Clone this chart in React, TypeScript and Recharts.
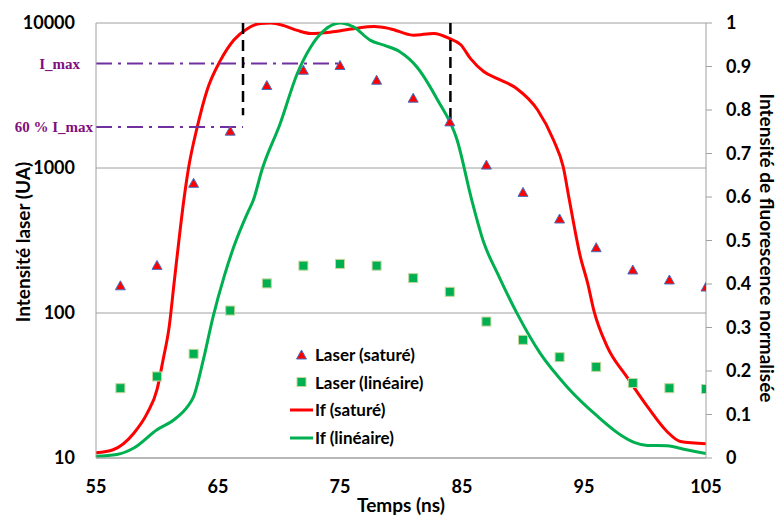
import {
  ComposedChart, XAxis, YAxis, CartesianGrid, Scatter, Line,
  ReferenceLine, Legend, Label
} from 'recharts';

// laser pulse sampled every 3 ns (left axis, log)
const times = [57, 60, 63, 66, 69, 72, 75, 78, 81, 84, 87, 90, 93, 96, 99, 102, 105];
const laserSat = [154, 213, 784, 1795, 3705, 4723, 5090, 4030, 3030, 2080, 1047, 679, 445, 282, 198, 169, 151];
const laserLin = [30.3, 36.5, 52.3, 104, 160, 212, 218, 212, 174, 140, 87.3, 65.3, 49.6, 42.5, 32.9, 30.3, 29.9];

// normalised fluorescence (right axis)
const ifSatT = [55, 56.4, 58.1, 59.2, 60.0, 60.5, 61.0, 61.4, 61.8, 62.2, 62.6, 63.3, 64.1, 65.2, 66.3, 67.4, 68.5, 69.3, 70.4, 71.5, 72.6, 74.2, 76.1, 77.8, 79.1, 81.0, 82.7, 84.0, 84.9, 85.7, 86.8, 87.9, 89.5, 91.2, 92.5, 93.3, 93.8, 94.7, 95.3, 95.8, 96.9, 98.5, 100.2, 101.8, 102.9, 105];
const ifSatV = [0.012, 0.019, 0.057, 0.103, 0.157, 0.226, 0.302, 0.402, 0.501, 0.593, 0.669, 0.761, 0.845, 0.914, 0.961, 0.987, 0.999, 1.0, 0.994, 0.983, 0.976, 0.979, 0.987, 0.992, 0.987, 0.972, 0.976, 0.964, 0.95, 0.918, 0.888, 0.872, 0.849, 0.8, 0.731, 0.669, 0.593, 0.463, 0.402, 0.34, 0.256, 0.187, 0.118, 0.061, 0.038, 0.033];
const ifLinT = [55, 56.7, 58.1, 60.0, 61.4, 62.5, 63.0, 63.8, 64.6, 65.5, 66.3, 67.4, 67.9, 68.6, 70.1, 71.5, 72.6, 73.7, 75.0, 76.1, 77.5, 78.6, 79.9, 81.3, 83.0, 84.6, 85.8, 86.8, 87.9, 89.5, 91.4, 93.6, 96.1, 98.0, 99.1, 100.2, 101.8, 103.4, 105];
const ifLinV = [0.004, 0.008, 0.023, 0.065, 0.088, 0.118, 0.141, 0.226, 0.325, 0.417, 0.486, 0.562, 0.593, 0.662, 0.769, 0.884, 0.945, 0.983, 1.0, 0.991, 0.96, 0.949, 0.934, 0.899, 0.823, 0.731, 0.593, 0.494, 0.425, 0.333, 0.241, 0.164, 0.096, 0.053, 0.036, 0.029, 0.028, 0.019, 0.01];

const xTicks = [55, 65, 75, 85, 95, 105];
const leftTicks = [10, 100, 1000, 10000];
const rightTicks = [0, 0.1, 0.2, 0.3, 0.4, 0.5, 0.6, 0.7, 0.8, 0.9, 1];

// annotations
const iMax = 5250;
const iMax60 = 1920;
const tRise = 67.05;
const tFall = 84.05;
const riseBottom = 2310;
const fallBottom = 2080;

const satData = times.map((t, i) => ({ t, v: laserSat[i] }));
const linData = times.map((t, i) => ({ t, v: laserLin[i] }));
const ifSatData = ifSatT.map((t, i) => ({ t, v: ifSatV[i] }));
const ifLinData = ifLinT.map((t, i) => ({ t, v: ifLinV[i] }));

const FONT = 'Lato, "Open Sans", sans-serif';
const GRID = '#A0A0A0';
const RED = '#FF0000';
const GREEN = '#00B050';
const PURPLE_LINE = '#7030A0';
const PURPLE_TEXT = '#7F0F7E';

const tickStyle = { fill: '#000', fontSize: 18, fontWeight: 700, fontFamily: FONT };

function Triangle({ cx, cy }: { cx?: number; cy?: number }) {
  if (cx == null || cy == null) return null;
  return (
    <path
      d={`M${cx},${cy - 5} L${cx + 5},${cy + 4} L${cx - 5},${cy + 4} Z`}
      fill={RED}
      stroke="#4472C4"
      strokeWidth={1}
    />
  );
}

function Square({ cx, cy }: { cx?: number; cy?: number }) {
  if (cx == null || cy == null) return null;
  return <rect x={cx - 4.5} y={cy - 4.5} width={9} height={9} fill={GREEN} stroke="#C3D69B" strokeWidth={1} />;
}

const legendRows = [
  { label: 'Laser (saturé)', kind: 'tri' },
  { label: 'Laser (linéaire)', kind: 'sq' },
  { label: 'If (saturé)', kind: 'line', color: RED },
  { label: 'If (linéaire)', kind: 'line', color: GREEN },
];

function ChartLegend() {
  return (
    <div style={{ fontFamily: FONT, fontWeight: 700, fontSize: 17, color: '#000' }}>
      {legendRows.map(r => (
        <div key={r.label} style={{ display: 'flex', alignItems: 'center', height: 27.6 }}>
          <svg width={27} height={14} style={{ display: 'block' }}>
            {r.kind === 'tri' && <Triangle cx={13.5} cy={7} />}
            {r.kind === 'sq' && <Square cx={13.5} cy={7} />}
            {r.kind === 'line' && <line x1={2} y1={7} x2={25} y2={7} stroke={r.color} strokeWidth={3} />}
          </svg>
          <span style={{ whiteSpace: 'nowrap', lineHeight: 1 }}>{r.label}</span>
        </div>
      ))}
    </div>
  );
}

const purpleLabel = (text: string, offset: number) => ({
  value: text,
  position: 'left' as const,
  offset,
  fill: PURPLE_TEXT,
  fontSize: 15,
  fontWeight: 700,
  fontFamily: '"Liberation Serif", "DejaVu Serif", serif',
});

export default function App() {
  return (
    <div style={{ position: 'absolute', left: 0, top: 0, width: 779, height: 520, background: '#fff' }}>
      <ComposedChart width={779} height={520} margin={{ top: 23, right: 0, left: 0, bottom: 0 }}>
        <CartesianGrid yAxisId="left" vertical={false} stroke={GRID} strokeWidth={1} />
        <XAxis
          type="number"
          dataKey="t"
          domain={[55, 105]}
          ticks={xTicks}
          allowDataOverflow
          height={62}
          tickLine={false}
          tickSize={0}
          tickMargin={22}
          axisLine={{ stroke: GRID }}
          tick={tickStyle}
        >
          <Label
            content={() => (
              <text x={401} y={512} textAnchor="middle" fontFamily={FONT} fontWeight={700} fontSize={19} fill="#000">
                Temps (ns)
              </text>
            )}
          />
        </XAxis>
        <YAxis
          yAxisId="left"
          dataKey="v"
          scale="log"
          type="number"
          domain={[10, 10000]}
          ticks={leftTicks}
          allowDataOverflow
          width={96}
          tickLine={false}
          tickSize={0}
          tickMargin={21}
          axisLine={{ stroke: GRID }}
          tick={tickStyle}
        >
          <Label
            content={() => (
              <text
                x={22}
                y={242}
                textAnchor="middle"
                dominantBaseline="central"
                transform="rotate(-90 22 242)"
                fontFamily={FONT}
                fontWeight={700}
                fontSize={19}
                fill="#000"
              >
                Intensité laser (UA)
              </text>
            )}
          />
        </YAxis>
        <YAxis
          yAxisId="right"
          orientation="right"
          dataKey="v"
          type="number"
          domain={[0, 1]}
          ticks={rightTicks}
          allowDataOverflow
          width={73}
          tickSize={6}
          tickMargin={14}
          tickLine={{ stroke: GRID }}
          axisLine={{ stroke: GRID }}
          tick={tickStyle}
          tickFormatter={(v: number) => String(v)}
        >
          <Label
            content={() => (
              <text
                x={767}
                y={248}
                textAnchor="middle"
                dominantBaseline="central"
                transform="rotate(90 767 248)"
                fontFamily={FONT}
                fontWeight={700}
                fontSize={19}
                fill="#000"
              >
                Intensité de fluorescence normalisée
              </text>
            )}
          />
        </YAxis>

        <Line
          yAxisId="right"
          data={ifSatData}
          dataKey="v"
          type="monotone"
          stroke={RED}
          strokeWidth={3}
          dot={false}
          activeDot={false}
          isAnimationActive={false}
        />
        <Line
          yAxisId="right"
          data={ifLinData}
          dataKey="v"
          type="monotone"
          stroke={GREEN}
          strokeWidth={3}
          dot={false}
          activeDot={false}
          isAnimationActive={false}
        />

        <ReferenceLine
          yAxisId="left"
          segment={[{ x: 55, y: iMax }, { x: 75, y: iMax }]}
          stroke={PURPLE_LINE}
          strokeWidth={2}
          strokeDasharray="16 6 3 6"
          label={purpleLabel('I_max', 16)}
        />
        <ReferenceLine
          yAxisId="left"
          segment={[{ x: 55, y: iMax60 }, { x: tRise, y: iMax60 }]}
          stroke={PURPLE_LINE}
          strokeWidth={2}
          strokeDasharray="16 6 3 6"
          label={purpleLabel('60 % I_max', 3)}
        />
        <ReferenceLine
          yAxisId="left"
          segment={[{ x: tRise, y: 10000 }, { x: tRise, y: riseBottom }]}
          stroke="#000"
          strokeWidth={2.5}
          strokeDasharray="11 6"
        />
        <ReferenceLine
          yAxisId="left"
          segment={[{ x: tFall, y: 10000 }, { x: tFall, y: fallBottom }]}
          stroke="#000"
          strokeWidth={2.5}
          strokeDasharray="11 6"
        />

        <Scatter yAxisId="left" data={satData} shape={<Triangle />} isAnimationActive={false} />
        <Scatter yAxisId="left" data={linData} shape={<Square />} isAnimationActive={false} />

        <Legend
          layout="vertical"
          align="center"
          verticalAlign="middle"
          wrapperStyle={{ left: 288, top: 341, width: 200 }}
          content={() => <ChartLegend />}
        />
      </ComposedChart>
    </div>
  );
}
